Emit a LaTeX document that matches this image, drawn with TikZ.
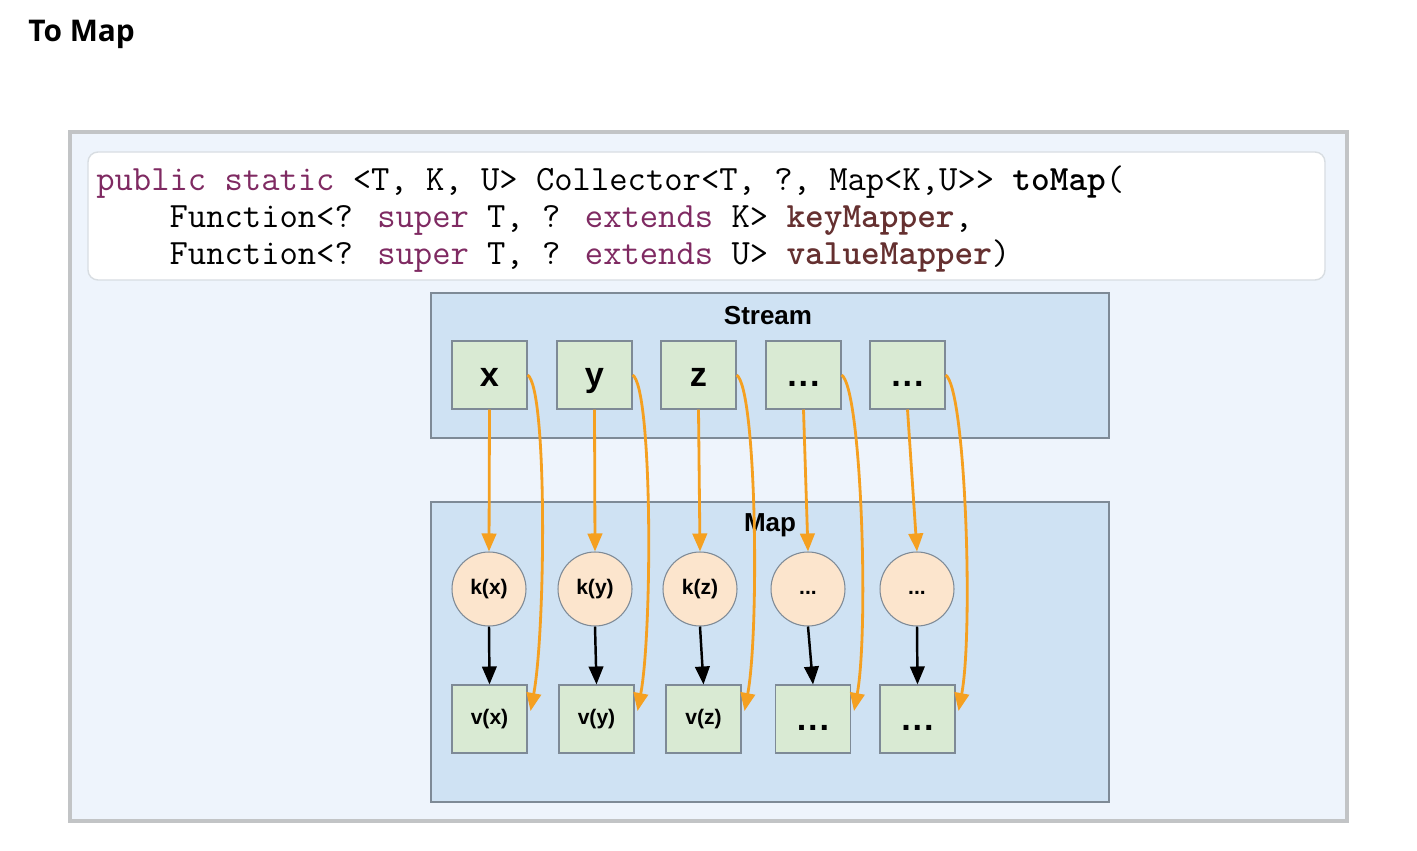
\documentclass[tikz,border=0pt]{standalone}
\usepackage{fontspec}
\newfontfamily\titlefont{Open Sans}
\newfontfamily\labfont{Liberation Sans}
\usetikzlibrary{arrows.meta,calc}
\definecolor{outerfill}{HTML}{EEF4FC}
\definecolor{outerdraw}{HTML}{C2C4C6}
\definecolor{codedraw}{HTML}{D8DDE2}
\definecolor{boxfill}{HTML}{CFE2F3}
\definecolor{boxdraw}{HTML}{7E8A96}
\definecolor{greenfill}{HTML}{D9EAD3}
\definecolor{peach}{HTML}{FCE5CD}
\definecolor{orangeline}{HTML}{F5A020}
\definecolor{kw}{HTML}{7F2A62}
\definecolor{param}{HTML}{653030}
\begin{document}
\begin{tikzpicture}[x=0.02cm,y=-0.02cm,
  codefont/.style={font=\ttfamily\fontsize{20.25}{22}\selectfont, inner sep=0pt, anchor=base west},
  item/.style={draw=boxdraw, fill=greenfill, minimum width=1.5cm, minimum height=1.36cm, inner sep=0pt, line width=0.6pt},
  keynode/.style={circle, draw=boxdraw, fill=peach, minimum size=1.48cm, inner sep=0pt, line width=0.6pt, font=\labfont\bfseries\fontsize{12}{14}\selectfont},
  bigtxt/.style={font=\labfont\bfseries\fontsize{19.5}{22}\selectfont, text height=13pt, text depth=0pt},
  midtxt/.style={font=\labfont\bfseries\fontsize{12}{14}\selectfont},
  container/.style={draw=boxdraw, fill=boxfill, line width=0.6pt},
  oarrow/.style={draw=orangeline, line width=1.6pt, -{Triangle[length=0.36cm,width=0.29cm]}},
  karrow/.style={draw=black, line width=1.4pt, -{Triangle[length=0.36cm,width=0.29cm]}}
]
\useasboundingbox (0,0) rectangle (1417,851);
\fill[white] (0,0) rectangle (1417,851);
% title
\node[anchor=west, font=\titlefont\bfseries\fontsize{17}{20}\selectfont, inner sep=0pt] (title) at (28,34) {To Map};
% outer frame
\draw[outerdraw, fill=outerfill, line width=2.4pt] (70,132) rectangle (1347,821);
% code box
\draw[codedraw, fill=white, line width=0.8pt, rounded corners=0.2cm] (88,152) rectangle (1325,280);
\node[codefont] (code1) at (96,191) {\textcolor{kw}{public static} <T, K, U> Collector<T, ?, Map<K,U>> \textbf{toMap}(};
\node[codefont] (code2) at (96,228) {\phantom{xxxx}Function<? \textcolor{kw}{super} T, ? \textcolor{kw}{extends} K> \textcolor{param}{\textbf{keyMapper}},};
\node[codefont] (code3) at (96,265) {\phantom{xxxx}Function<? \textcolor{kw}{super} T, ? \textcolor{kw}{extends} U> \textcolor{param}{\textbf{valueMapper}})};
% containers
\draw[container] (431,293) rectangle (1109,438);
\node[font=\labfont\bfseries\fontsize{14.8}{17}\selectfont] (streamlab) at (768,316) {Stream};
\draw[container] (431,502) rectangle (1109,802);
\node[font=\labfont\bfseries\fontsize{14.8}{17}\selectfont] (maplab) at (770,525) {Map};
% stream items
\node[item, bigtxt] (s1) at (489.5,375) {x};
\node[item, bigtxt] (s2) at (594.5,375) {y};
\node[item, bigtxt] (s3) at (698.5,375) {z};
\node[item, bigtxt] (s4) at (803.5,375) {.\hspace{1pt}.\hspace{1pt}.};
\node[item, bigtxt] (s5) at (907.5,375) {.\hspace{1pt}.\hspace{1pt}.};
% keys
\node[keynode] (k1) at (489,589) {k(x)};
\node[keynode] (k2) at (595,589) {k(y)};
\node[keynode] (k3) at (700,589) {k(z)};
\node[keynode] (k4) at (808,589) {\vphantom{k(x)}...};
\node[keynode] (k5) at (917,589) {\vphantom{k(x)}...};
% values
\node[item, midtxt] (v1) at (489.5,719) {v(x)};
\node[item, midtxt] (v2) at (596.5,719) {v(y)};
\node[item, midtxt] (v3) at (703.5,719) {v(z)};
\node[item, bigtxt] (v4) at (813,719) {.\hspace{1pt}.\hspace{1pt}.};
\node[item, bigtxt] (v5) at (917.5,719) {.\hspace{1pt}.\hspace{1pt}.};
% arrows
\foreach \i in {1,...,5}{
  \draw[oarrow] (s\i.south) -- (k\i.north);
  \draw[karrow] (k\i.south) -- (v\i.north);
  \draw[oarrow] (s\i.east) .. controls +(20,12) and +(15,-80) .. ($(v\i.east)+(3,-8)$);
}
\end{tikzpicture}
\end{document}
